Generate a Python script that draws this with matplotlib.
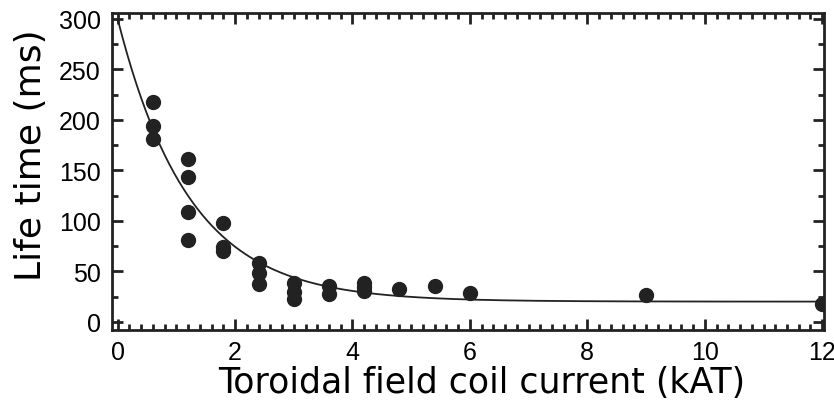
import matplotlib
matplotlib.use("Agg")
import matplotlib.pyplot as plt
import numpy as np
from matplotlib.ticker import MultipleLocator

# measured points (kAT, ms)
current = [0.6, 0.6, 0.6,
           1.2, 1.2, 1.2, 1.2,
           1.8, 1.8, 1.8,
           2.4, 2.4, 2.4,
           3.0, 3.0, 3.0,
           3.6, 3.6,
           4.2, 4.2, 4.2,
           4.8, 5.4, 6.0, 9.0, 12.0]
life_time = [218, 194, 181,
             161, 143, 109, 81,
             98, 74, 70,
             58, 48, 37,
             38, 30, 23,
             35, 28,
             38, 34, 31,
             32, 35, 29, 27, 18]

# exponential fit: c + a*exp(-x/tau)
fit_a = 280.0
fit_tau = 1.22
fit_c = 20.0

plt.rcParams['font.family'] = ['Liberation Sans', 'DejaVu Sans']

fig = plt.figure(figsize=(8.34, 4.06), dpi=100)
ax = fig.add_axes([0.134, 0.185, 0.854, 0.781])

xs = np.linspace(0, 12, 300)
ax.plot(xs, fit_c + fit_a * np.exp(-xs / fit_tau), color="#222222", lw=1.3)
ax.plot(current, life_time, "o", color="#222222", ms=10)

ax.set_xlim(-0.1, 12.03)
ax.set_ylim(-8, 306)
ax.xaxis.set_major_locator(MultipleLocator(2))
ax.xaxis.set_minor_locator(MultipleLocator(0.2))
ax.yaxis.set_major_locator(MultipleLocator(50))
ax.yaxis.set_minor_locator(MultipleLocator(25))

ax.tick_params(which="both", direction="in", top=True, right=True,
               labelsize=18, width=2, color="#222222")
ax.tick_params(which="major", length=8)
ax.tick_params(which="minor", length=4)
ax.tick_params(axis="x", which="major", pad=7)
ax.tick_params(axis="y", which="major", pad=8)
for s in ax.spines.values():
    s.set_linewidth(2)
    s.set_color("#222222")

ax.set_xlabel("Toroidal field coil current (kAT)", fontsize=25,
              family="DejaVu Sans", labelpad=1)
ax.xaxis.label.set_x(0.52)
ax.set_ylabel("Life time (ms)", fontsize=26, family="DejaVu Sans", labelpad=8)
ax.yaxis.label.set_y(0.555)

fig.savefig("out.png", dpi=100)
